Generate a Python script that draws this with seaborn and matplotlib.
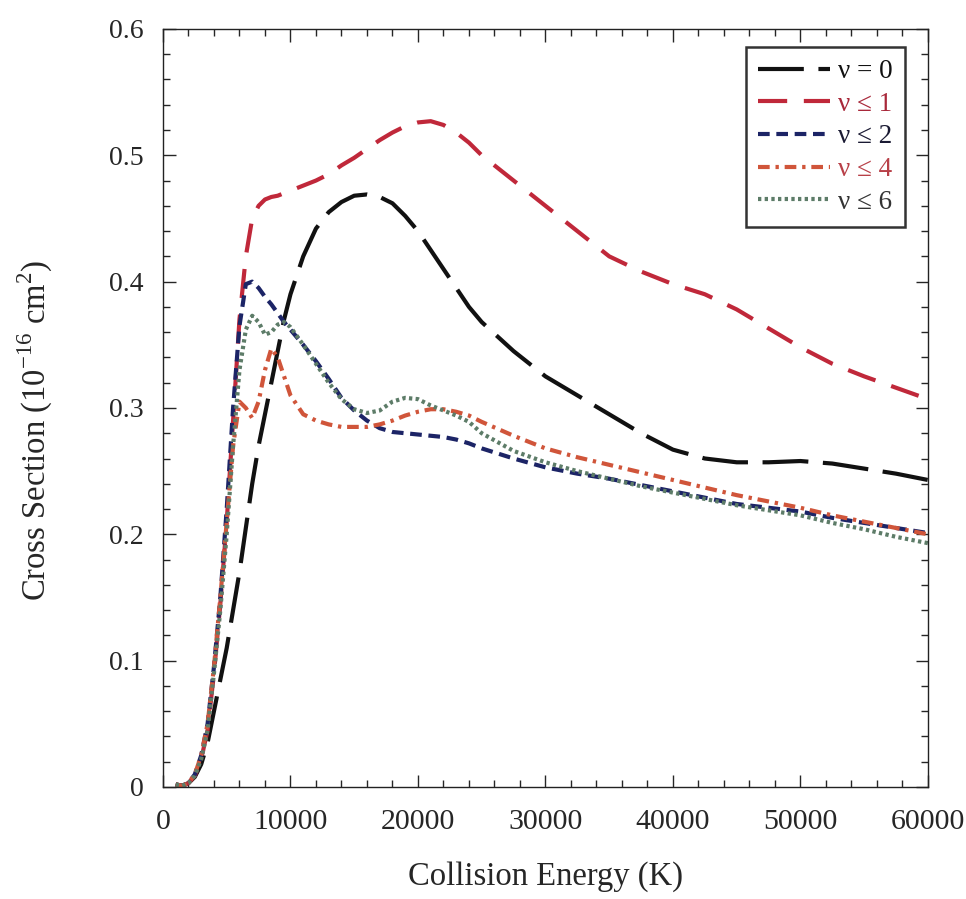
import numpy as np
import pandas as pd
import matplotlib
matplotlib.use("Agg")
import matplotlib.pyplot as plt
import seaborn as sns
from matplotlib.ticker import MultipleLocator, FuncFormatter

# Energías de colisión (K) y secciones eficaces
energy = [1000, 1500, 2000, 2500, 3000, 3500, 4000, 4500, 5000, 5500, 6000, 6500,
          7000, 7500, 8000, 8500, 9000, 9500, 10000, 11000, 12000, 13000, 14000,
          15000, 16000, 17000, 18000, 19000, 20000, 21000, 22000, 23000, 24000,
          25000, 27500, 30000, 32500, 35000, 37500, 40000, 42500, 45000, 47500,
          50000, 52500, 55000, 57500, 60000]

v0 = [0.002, 0.001, 0.003, 0.008, 0.018, 0.035, 0.060, 0.085, 0.110, 0.140, 0.170, 0.205,
      0.240, 0.270, 0.295, 0.320, 0.345, 0.370, 0.390, 0.420, 0.442, 0.455, 0.463,
      0.468, 0.469, 0.467, 0.462, 0.452, 0.440, 0.425, 0.410, 0.395, 0.380,
      0.368, 0.345, 0.325, 0.310, 0.295, 0.280, 0.267, 0.260, 0.257, 0.257,
      0.258, 0.256, 0.252, 0.248, 0.243]

v1 = [0.002, 0.001, 0.003, 0.009, 0.022, 0.045, 0.090, 0.145, 0.210, 0.290, 0.370, 0.420,
      0.450, 0.460, 0.465, 0.467, 0.468, 0.470, 0.472, 0.476, 0.480, 0.485, 0.492,
      0.498, 0.505, 0.512, 0.518, 0.523, 0.526, 0.527, 0.524, 0.518, 0.510,
      0.500, 0.480, 0.460, 0.440, 0.420, 0.408, 0.398, 0.390, 0.378, 0.363,
      0.348, 0.335, 0.325, 0.316, 0.307]

v2 = [0.002, 0.001, 0.003, 0.010, 0.025, 0.050, 0.095, 0.150, 0.220, 0.300, 0.365, 0.398,
      0.400, 0.395, 0.388, 0.382, 0.375, 0.368, 0.362, 0.350, 0.337, 0.323, 0.308,
      0.298, 0.290, 0.284, 0.281, 0.280, 0.279, 0.278, 0.277, 0.275, 0.272,
      0.268, 0.260, 0.253, 0.248, 0.244, 0.239, 0.234, 0.229, 0.224, 0.221,
      0.218, 0.213, 0.209, 0.205, 0.201]

v4 = [0.002, 0.001, 0.003, 0.010, 0.025, 0.050, 0.095, 0.150, 0.210, 0.270, 0.305, 0.300,
      0.292, 0.305, 0.330, 0.347, 0.340, 0.325, 0.310, 0.295, 0.290, 0.287, 0.285,
      0.285, 0.285, 0.287, 0.290, 0.294, 0.297, 0.299, 0.299, 0.297, 0.294,
      0.289, 0.278, 0.268, 0.261, 0.255, 0.249, 0.243, 0.237, 0.231, 0.226,
      0.221, 0.215, 0.210, 0.205, 0.200]

v6 = [0.002, 0.001, 0.003, 0.009, 0.022, 0.045, 0.090, 0.140, 0.200, 0.270, 0.330, 0.362,
      0.373, 0.368, 0.358, 0.360, 0.366, 0.368, 0.364, 0.350, 0.335, 0.320, 0.307,
      0.299, 0.296, 0.298, 0.305, 0.308, 0.307, 0.302, 0.298, 0.294, 0.289,
      0.280, 0.266, 0.257, 0.250, 0.244, 0.238, 0.233, 0.228, 0.223, 0.219,
      0.215, 0.209, 0.204, 0.198, 0.193]

labels = ["ν = 0", "ν ≤ 1", "ν ≤ 2", "ν ≤ 4", "ν ≤ 6"]
series = [v0, v1, v2, v4, v6]
colors = ["#111111", "#c0283a", "#1c2466", "#d0553a", "#5d7c68"]
text_colors = ["#111111", "#a8283a", "#1a1a33", "#b84048", "#333333"]
styles = [(0, (11, 3.5)), (0, (7, 4)), (0, (2.8, 1.6)),
          (0, (2.8, 1.4, 0.8, 1.4)), (0, (0.8, 0.8))]

df = pd.DataFrame({"energy": energy * len(series),
                   "xs": np.concatenate(series),
                   "nivel": np.repeat(labels, len(energy))})

sns.set_style("ticks")
plt.rcParams["font.family"] = ["Liberation Serif", "DejaVu Serif"]
plt.rcParams["mathtext.fontset"] = "custom"
plt.rcParams["mathtext.rm"] = "Liberation Serif"

fig = plt.figure(figsize=(9.66, 8.99), dpi=100)
ax = fig.add_axes([0.1687, 0.1246, 0.7919, 0.8432])

for lab, col, ls in zip(labels, colors, styles):
    sns.lineplot(data=df[df["nivel"] == lab], x="energy", y="xs", ax=ax,
                 color=col, linewidth=3.0, linestyle=ls, label=lab)

ax.set_xlim(0, 60000)
ax.set_ylim(0, 0.6)
ax.xaxis.set_major_locator(MultipleLocator(10000))
ax.xaxis.set_minor_locator(MultipleLocator(2000))
ax.yaxis.set_major_locator(MultipleLocator(0.1))
ax.yaxis.set_minor_locator(MultipleLocator(0.02))
ax.xaxis.set_major_formatter(FuncFormatter(lambda v, p: f"{int(v)}"))
ax.yaxis.set_major_formatter(FuncFormatter(lambda v, p: "0" if abs(v) < 1e-9 else f"{v:.1f}"))
ax.tick_params(which="both", direction="in", top=True, right=True, width=1)
ax.tick_params(which="major", length=9)
ax.tick_params(which="minor", length=5)
ax.tick_params(axis="x", which="major", pad=16, labelsize=21.5)
ax.tick_params(axis="y", which="major", pad=14, labelsize=20)
for s in ax.spines.values():
    s.set_linewidth(1)
    s.set_color("#222222")

ax.set_xlabel("Collision Energy (K)", fontsize=23.5)
ax.set_ylabel(r"Cross Section (10$^{\mathrm{-16}}$ cm$^{\mathrm{2}}$)", fontsize=23.5)
ax.xaxis.set_label_coords(0.5, -0.098)
ax.yaxis.set_label_coords(-0.141, 0.47)

leg = ax.legend(loc="upper right", bbox_to_anchor=(0.970, 0.976), fontsize=19.5,
                frameon=True, fancybox=False, handlelength=2.65, handletextpad=0.3,
                borderpad=0.45, labelspacing=0.28, borderaxespad=0)
leg.get_frame().set_edgecolor("black")
leg.get_frame().set_linewidth(1.8)
for t, c in zip(leg.get_texts(), text_colors):
    t.set_color(c)

plt.savefig("out.png", dpi=100)
